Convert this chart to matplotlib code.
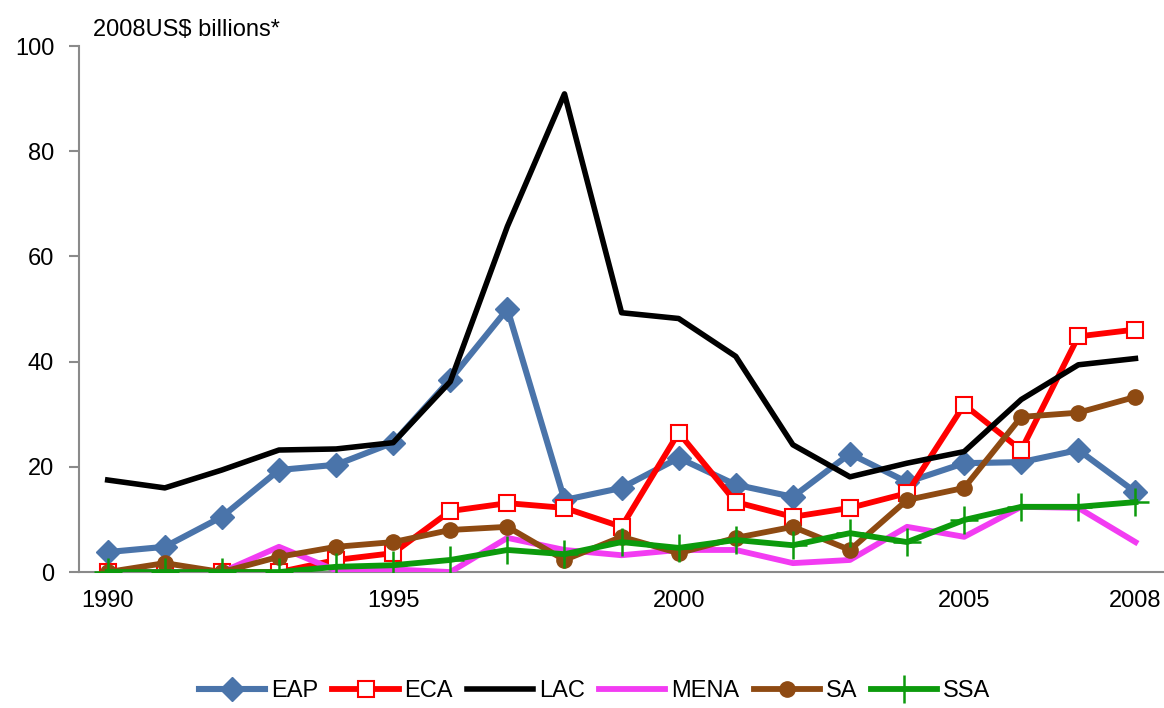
import numpy as np
import matplotlib
matplotlib.use('Agg')
import matplotlib.pyplot as plt

# Data (2008US$ billions)
years = list(range(1990, 2009))
eap = [3.8, 4.8, 10.5, 19.4, 20.4, 24.6, 36.6, 50.0, 13.7, 16.0, 21.7, 16.6, 14.3, 22.5, 17.1, 20.7, 20.9, 23.2, 15.2]
eca = [0, 0, 0, 0, 2.3, 3.6, 11.6, 13.1, 12.2, 8.6, 26.5, 13.3, 10.5, 12.2, 15.0, 31.8, 23.2, 44.8, 46.1]
lac = [17.5, 16.0, 19.4, 23.2, 23.4, 24.6, 36.2, 65.7, 90.9, 49.3, 48.2, 41.0, 24.2, 18.1, 20.7, 22.9, 32.8, 39.4, 40.6]
mena = [0, 0, 0, 4.8, 0.3, 0.5, 0, 6.5, 4.2, 3.2, 4.2, 4.2, 1.7, 2.3, 8.6, 6.7, 12.4, 12.2, 5.7]
sa = [0, 1.7, 0, 2.9, 4.8, 5.7, 8.0, 8.6, 2.3, 6.7, 3.6, 6.5, 8.6, 4.2, 13.7, 16.0, 29.5, 30.3, 33.3]
ssa = [0, 0, 0, 0, 1.0, 1.3, 2.3, 4.2, 3.4, 5.7, 4.6, 6.1, 5.1, 7.4, 5.7, 9.9, 12.4, 12.4, 13.3]

xtick_years = [1990, 1995, 2000, 2005, 2008]
yticks = [0, 20, 40, 60, 80, 100]

plt.rcParams['font.family'] = ['Liberation Sans', 'DejaVu Sans']

fig = plt.figure(figsize=(11.64, 7.08), dpi=100)
ax = fig.add_axes([0.068, 0.192, 0.932, 0.743])

x = np.arange(len(years))

# series drawn in legend order so later ones sit on top (like Excel)
ax.plot(x, eap, color='#4A74AA', lw=4.4, marker='D', ms=12, label='EAP')
ax.plot(x, eca, color='#FF0000', lw=4.2, marker='s', ms=11, mfc='white',
        mec='#FF0000', mew=1.5, label='ECA')
ax.plot(x, lac, color='black', lw=4.0, label='LAC')
ax.plot(x, mena, color='#F23CF2', lw=4.2, label='MENA')
ax.plot(x, sa, color='#8E4A12', lw=4.2, marker='o', ms=11, label='SA')
ax.plot(x, ssa, color='#0C9A0C', lw=4.2, marker='+', ms=20, mew=1.8, label='SSA')

ax.set_xlim(-0.5, len(years) - 0.5)
ax.set_ylim(0, 100)
ax.set_yticks(yticks)
ax.set_xticks([years.index(y) for y in xtick_years])
ax.set_xticklabels([str(y) for y in xtick_years])

for s in ['top', 'right']:
    ax.spines[s].set_visible(False)
for s in ['left', 'bottom']:
    ax.spines[s].set_color('#8A8A8A')
    ax.spines[s].set_linewidth(1.5)
    ax.spines[s].set_zorder(0.5)

ax.tick_params(axis='y', direction='out', length=7, width=1.5, color='#8A8A8A',
               labelsize=17, pad=11)
ax.tick_params(axis='x', length=0, labelsize=17, pad=13)

fig.text(93 / 1164, 1 - 30 / 708, '2008US$ billions*', fontsize=17, va='center', ha='left')

fig.legend(loc='lower center', bbox_to_anchor=(0.511, -0.022), ncol=6, frameon=False,
           fontsize=17, handlelength=2.8, handletextpad=0.25, columnspacing=0.6)

fig.savefig('out.png', dpi=100)
